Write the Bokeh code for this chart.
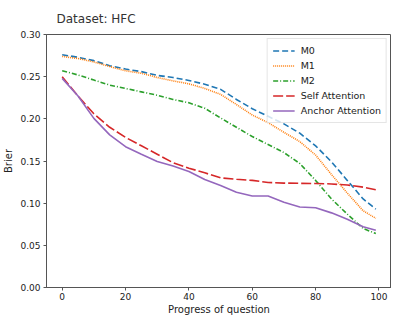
from bokeh.plotting import figure
from bokeh.models import Range1d, FixedTicker, NumeralTickFormatter, Legend, LegendItem
from bokeh.embed import file_html
from bokeh.resources import INLINE

progress = [0, 5, 10, 15, 20, 25, 30, 35, 40, 45, 50, 55, 60, 65, 70, 75, 80, 85, 90, 95, 99]
m0 = [0.276, 0.273, 0.269, 0.263, 0.259, 0.256, 0.2515, 0.249, 0.2455, 0.241, 0.235, 0.223, 0.212,
      0.203, 0.194, 0.183, 0.168, 0.149, 0.127, 0.105, 0.093]
m1 = [0.274, 0.2715, 0.2675, 0.262, 0.257, 0.254, 0.249, 0.245, 0.2415, 0.236, 0.229, 0.217, 0.2045,
      0.1955, 0.184, 0.173, 0.157, 0.134, 0.112, 0.091, 0.082]
m2 = [0.257, 0.252, 0.246, 0.240, 0.236, 0.232, 0.228, 0.223, 0.219, 0.2125, 0.201, 0.190, 0.179,
      0.1695, 0.160, 0.147, 0.127, 0.105, 0.087, 0.070, 0.064]
self_att = [0.250, 0.227, 0.206, 0.190, 0.178, 0.168, 0.158, 0.148, 0.1415, 0.136, 0.130, 0.1283, 0.127,
            0.1245, 0.1238, 0.1235, 0.1233, 0.1228, 0.1215, 0.119, 0.116]
anchor_att = [0.248, 0.227, 0.2005, 0.181, 0.167, 0.158, 0.1495, 0.144, 0.1375, 0.128, 0.121, 0.113, 0.1085,
              0.1085, 0.101, 0.0955, 0.0945, 0.0885, 0.081, 0.072, 0.068]

series = [
    ("M0", m0, "#1f77b4", "6 3"),
    ("M1", m1, "#ff7f0e", "1 1"),
    ("M2", m2, "#2ca02c", "5 2 1 2"),
    ("Self Attention", self_att, "#d62728", "10 3"),
    ("Anchor Attention", anchor_att, "#9467bd", "solid"),
]

p = figure(width=391, height=317, output_backend="svg", toolbar_location=None,
           x_range=Range1d(-4.95, 103.95), y_range=Range1d(0, 0.30),
           min_border=0, min_border_left=2, min_border_right=0, min_border_top=0, min_border_bottom=0)

p.title.text = "Dataset: HFC"
p.title.text_font = "DejaVu Sans"
p.title.text_font_size = "12px"
p.title.text_font_style = "normal"
p.title.text_color = "#333333"
p.title.align = "left"
p.title.offset = 10
p.title.standoff = 18
p.title.text_line_height = 1.0

items = []
for name, vals, color, dash in series:
    r = p.line(progress, vals, line_color=color, line_width=1.6, line_dash=dash)
    items.append(LegendItem(label=name, renderers=[r]))

legend = Legend(items=items, location="top_right")
legend.label_text_font = "DejaVu Sans"
legend.label_text_font_size = "9.5px"
legend.label_text_color = "#222222"
legend.glyph_width = 22
legend.glyph_height = 13
legend.label_height = 13
legend.spacing = 2
legend.padding = 5
legend.margin = 4
legend.label_standoff = 6
legend.border_line_color = "#cccccc"
legend.border_line_width = 1
legend.background_fill_alpha = 0.8
p.add_layout(legend)

p.xaxis.ticker = FixedTicker(ticks=[0, 20, 40, 60, 80, 100])
p.yaxis.ticker = FixedTicker(ticks=[0.0, 0.05, 0.10, 0.15, 0.20, 0.25, 0.30])
p.yaxis.formatter = NumeralTickFormatter(format="0.00")
p.xaxis.axis_label = "Progress of question"
p.yaxis.axis_label = "Brier"

for ax in (p.xaxis[0], p.yaxis[0]):
    ax.axis_label_text_font = "DejaVu Sans"
    ax.axis_label_text_font_size = "10px"
    ax.axis_label_text_font_style = "normal"
    ax.axis_label_text_color = "#222222"
    ax.major_label_text_font = "DejaVu Sans"
    ax.major_label_text_font_size = "9px"
    ax.major_label_text_color = "#222222"
    ax.minor_tick_line_color = None
    ax.major_tick_in = 0
    ax.major_tick_out = 3
    ax.major_tick_line_color = "#555555"
    ax.axis_line_color = "#555555"
    ax.major_label_standoff = 3
    ax.axis_label_standoff = 3

p.xaxis.major_label_standoff = 2
p.xaxis.axis_label_standoff = 1

p.xgrid.grid_line_color = None
p.ygrid.grid_line_color = None
p.outline_line_color = "#555555"
p.outline_line_width = 1
p.background_fill_color = "white"
p.border_fill_color = "white"

open("out.html", "w").write(file_html(p, INLINE))
